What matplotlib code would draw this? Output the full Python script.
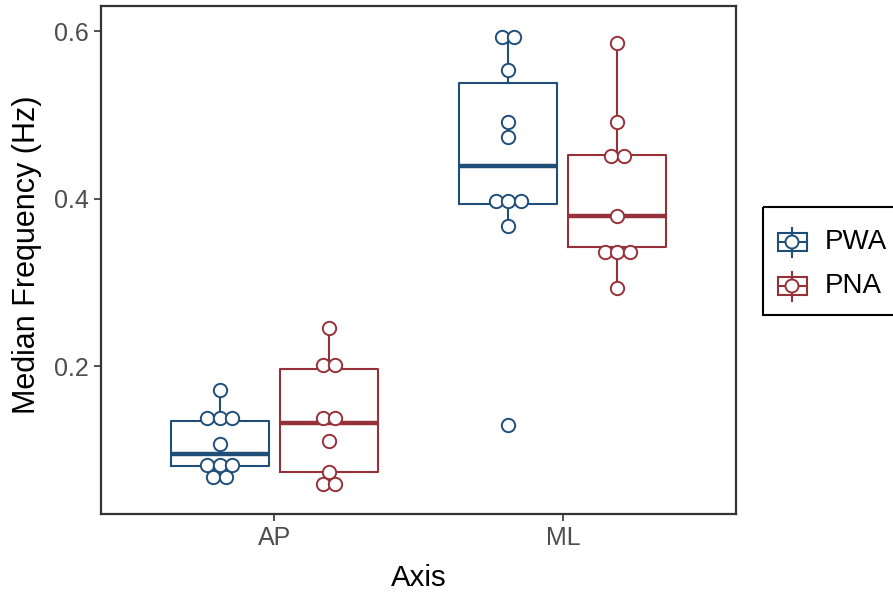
import numpy as np
import matplotlib
matplotlib.use("Agg")
import matplotlib.pyplot as plt
from matplotlib.patches import Rectangle, Circle

plt.rcParams['font.family'] = ['Liberation Sans', 'DejaVu Sans']

# median frequency (Hz) per participant, by sway axis and group
axes_names = ['AP', 'ML']
groups = ['PWA', 'PNA']
pwa_ap = [0.066, 0.070, 0.080, 0.0815, 0.084, 0.107, 0.131, 0.136, 0.144, 0.171]
pwa_ml = [0.129, 0.367, 0.391, 0.399, 0.404, 0.474, 0.492, 0.553, 0.590, 0.596]
pna_ap = [0.058, 0.061, 0.074, 0.110, 0.132, 0.145, 0.196, 0.207, 0.245]
pna_ml = [0.293, 0.330, 0.342, 0.343, 0.379, 0.449, 0.452, 0.492, 0.586]

data = {'PWA': [pwa_ap, pwa_ml], 'PNA': [pna_ap, pna_ml]}
colors = {'PWA': '#1f4e79', 'PNA': '#973139'}
dodge = {'PWA': -0.189, 'PNA': 0.189}

BINWIDTH = 0.0135
DOT_DX = 0.043


def dot_bins(values, binwidth):
    """dotdensity-style binning: returns (center, count) per bin"""
    vals = sorted(values)
    bins = []
    start = vals[0]
    cur = [vals[0]]
    for v in vals[1:]:
        if v - start > binwidth:
            bins.append(cur)
            start = v
            cur = [v]
        else:
            cur.append(v)
    bins.append(cur)
    return [((min(b) + max(b)) / 2, len(b)) for b in bins]


fig = plt.figure(figsize=(8.93, 5.96), dpi=100)
ax = fig.add_axes([101 / 893, 82 / 596, 635 / 893, 508.3 / 596])

for g in groups:
    col = colors[g]
    for i, vals in enumerate(data[g]):
        pos = i + 1 + dodge[g]
        ax.boxplot([vals], positions=[pos], widths=0.34, whis=1.5,
                   showfliers=False, showcaps=False, patch_artist=False,
                   boxprops=dict(color=col, linewidth=1.5),
                   whiskerprops=dict(color=col, linewidth=1.5),
                   medianprops=dict(color=col, linewidth=3.2, solid_capstyle='butt'),
                   manage_ticks=False, zorder=2)
        for center, n in dot_bins(vals, BINWIDTH):
            xs = pos + (np.arange(n) - (n - 1) / 2) * DOT_DX
            ax.plot(xs, [center] * n, 'o', ms=9.6, mfc='white', mec=col,
                    mew=1.4, zorder=3, clip_on=False)

ax.set_xlim(0.4, 2.6)
ax.set_ylim(0.0233, 0.6303)
ax.set_xticks([1, 2])
ax.set_xticklabels(axes_names)
ax.set_yticks([0.2, 0.4, 0.6])
ax.set_yticklabels(['0.2', '0.4', '0.6'])
ax.tick_params(axis='both', length=5, width=1.2, color='#333333',
               labelcolor='#4d4d4d', labelsize=18, pad=3.5)
for s in ax.spines.values():
    s.set_color('#333333')
    s.set_linewidth(1.6)

fig.text(418.5 / 893, 1 - 578 / 596, 'Axis', ha='center', va='center', fontsize=21.2)
fig.text(27 / 893, 1 - 255 / 596, 'Median Frequency (Hz)', ha='center', va='center',
         rotation=90, fontsize=22)

# legend drawn in pixel space on an overlay axes
lax = fig.add_axes([0, 0, 1, 1], facecolor='none')
lax.set_xlim(0, 893)
lax.set_ylim(596, 0)
lax.axis('off')
lax.add_patch(Rectangle((762.5, 206.5), 160, 108.5, fill=False, ec='black', lw=1.5))
for k, g in enumerate(groups):
    col = colors[g]
    cy = 242 + k * 44
    lax.plot([792, 792], [cy - 14.5, cy + 14.5], color=col, lw=1.5)
    lax.add_patch(Rectangle((778, cy - 9), 29, 18, fill=True, fc='white', ec=col, lw=1.5))
    lax.plot([778, 807], [cy, cy], color=col, lw=1.5)
    lax.add_patch(Circle((792, cy), 6.5, fc='white', ec=col, lw=1.4, zorder=3))
    lax.text(825, cy, g, ha='left', va='center', fontsize=20)

fig.savefig('out.png', dpi=100)
